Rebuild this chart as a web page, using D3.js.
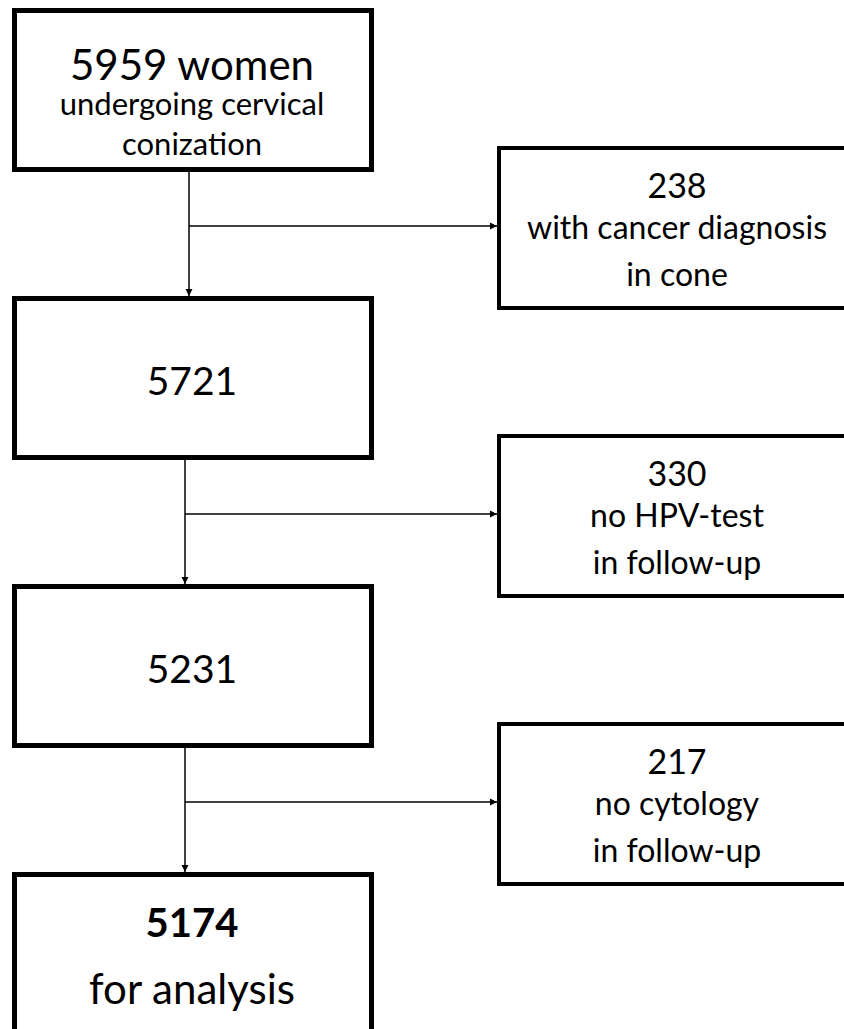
<!DOCTYPE html>
<html>
<head>
<meta charset="utf-8">
<script src="https://cdn.jsdelivr.net/npm/d3@7"></script>
<style>
  body { margin: 0; background: #fff; }
  text { font-family: Lato, "Open Sans", sans-serif; fill: #000; }
</style>
</head>
<body>
<div id="chart"></div>
<script>
const WIDTH = 844, HEIGHT = 1029;

// flow data
const mainCounts = ["5959 women", "5721", "5231", "5174"];
const mainNotes = [["undergoing cervical", "conization"], [], [], ["for analysis"]];
const exclCounts = ["238", "330", "217"];
const exclNotes = [["with cancer diagnosis", "in cone"], ["no HPV-test", "in follow-up"], ["no cytology", "in follow-up"]];

// layout
const MAIN_X = 12, MAIN_W = 362, BOX_H = 164;
const EXCL_X = 497, EXCL_OFFSET = 138;
const LINK_X = 187;
const row = d3.scaleLinear().domain([0, mainCounts.length - 1]).range([8, 872]);
const mainCx = 192;
const exclCx = 677;

const svg = d3.select("#chart").append("svg")
    .attr("width", WIDTH)
    .attr("height", HEIGHT)

svg.append("defs").append("marker")
    .attr("id", "arrow")
    .attr("viewBox", "0 0 10 10")
    .attr("refX", 10).attr("refY", 5)
    .attr("markerWidth", 5).attr("markerHeight", 5)
    .attr("markerUnits", "strokeWidth")
    .attr("orient", "auto")
    .append("path")
    .attr("d", "M0,0L10,5L0,10z")
    .attr("fill", "#000")

// main boxes
const SW_MAIN = 5
svg.selectAll("rect.main").data(mainCounts).join("rect")
    .attr("class", "main")
    .attr("x", MAIN_X + SW_MAIN / 2)
    .attr("y", (d, i) => row(i) + SW_MAIN / 2)
    .attr("width", MAIN_W - SW_MAIN)
    .attr("height", BOX_H - SW_MAIN)
    .attr("fill", "#fff")
    .attr("stroke", "#000")
    .attr("stroke-width", SW_MAIN)

// excluded boxes (run off the right edge)
const SW_EXCL = 4
svg.selectAll("rect.excl").data(exclCounts).join("rect")
    .attr("class", "excl")
    .attr("x", EXCL_X + SW_EXCL / 2)
    .attr("y", (d, i) => row(i) + EXCL_OFFSET + SW_EXCL / 2)
    .attr("width", 500)
    .attr("height", BOX_H - SW_EXCL)
    .attr("fill", "#fff")
    .attr("stroke", "#000")
    .attr("stroke-width", SW_EXCL)

// connectors
exclCounts.forEach((d, i) => {
    const x = i === 0 ? LINK_X + 2 : LINK_X - 2
    const y0 = row(i) + BOX_H, y1 = row(i + 1)
    const yMid = row(i) + EXCL_OFFSET + BOX_H / 2 - 2
    svg.append("line")
        .attr("x1", x).attr("x2", x)
        .attr("y1", y0).attr("y2", y1)
        .attr("stroke", "#000").attr("stroke-width", 1.5)
        .attr("marker-end", "url(#arrow)")
    svg.append("line")
        .attr("x1", x).attr("x2", EXCL_X)
        .attr("y1", yMid).attr("y2", yMid)
        .attr("stroke", "#000").attr("stroke-width", 1.5)
        .attr("marker-end", "url(#arrow)")
})

// main box labels
const mainBaselines = [[72, 107, 147], [99], [99], [65, 132]]
mainCounts.forEach((d, i) => {
    const lines = [d].concat(mainNotes[i])
    lines.forEach((t, j) => {
        let size = j === 0 ? 39 : 31
        if (i === 0 && j === 0) size = 42
        if (i === 3 && j === 0) size = 40
        if (i === 3 && j === 1) size = 42
        svg.append("text")
            .attr("x", mainCx)
            .attr("y", row(i) + mainBaselines[i][j])
            .attr("text-anchor", "middle")
            .attr("font-size", size)
            .attr("font-weight", i === 3 && j === 0 ? 700 : 400)
            .text(t)
    })
})

// excluded box labels
const exclBaselines = [52, 93, 140]
exclCounts.forEach((d, i) => {
    const lines = [d].concat(exclNotes[i])
    lines.forEach((t, j) => {
        svg.append("text")
            .attr("x", exclCx)
            .attr("y", row(i) + EXCL_OFFSET + exclBaselines[j])
            .attr("text-anchor", "middle")
            .attr("font-size", j === 0 ? 34 : 32)
            .text(t)
    })
})
</script>
</body>
</html>
